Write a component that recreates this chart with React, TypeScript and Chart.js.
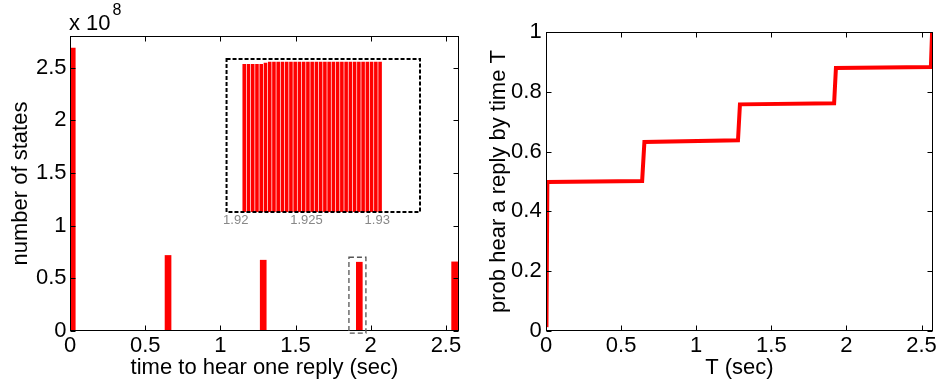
import React, { useEffect, useRef } from 'react';
import { Chart, registerables } from 'chart.js';
Chart.register(...registerables);

const FONT = '"Liberation Sans", Arial, Helvetica, sans-serif';

// ---- Left: histogram of time to hear one reply ----
const histTimes = [0.015, 0.652, 1.285, 1.924, 2.558];
const histCounts = [2.686e8, 0.717e8, 0.672e8, 0.653e8, 0.656e8];
const histXTicks = [0, 0.5, 1, 1.5, 2, 2.5];
const histYTicks = [0, 0.5e8, 1e8, 1.5e8, 2e8, 2.5e8];

// ---- Inset: zoom on the cluster near 1.92 s ----
const insetTimes = [
  1.9206, 1.9209, 1.9212, 1.9215, 1.9218, 1.9221, 1.9224, 1.9227, 1.923, 1.9233, 1.9236,
  1.9239, 1.9242, 1.9245, 1.9248, 1.9251, 1.9254, 1.9257, 1.926, 1.9263, 1.9266, 1.9269,
  1.9272, 1.9275, 1.9278, 1.9281, 1.9284, 1.9287, 1.929, 1.9293, 1.9296, 1.9299, 1.9302,
];
const insetCounts = [
  0.64e8, 0.64e8, 0.64e8, 0.64e8, 0.64e8, 0.645e8, 0.65e8, 0.65e8, 0.65e8, 0.65e8, 0.65e8,
  0.65e8, 0.65e8, 0.65e8, 0.65e8, 0.65e8, 0.65e8, 0.65e8, 0.65e8, 0.65e8, 0.65e8, 0.65e8,
  0.65e8, 0.65e8, 0.65e8, 0.65e8, 0.65e8, 0.65e8, 0.65e8, 0.65e8, 0.65e8, 0.65e8, 0.65e8,
];
const insetXTicks = [1.92, 1.925, 1.93];

// ---- Right: probability of hearing a reply by time T ----
const cdfT = [0.003, 0.009, 0.64, 0.655, 1.278, 1.291, 1.918, 1.93, 2.562, 2.57];
const cdfProb = [0.013, 0.498, 0.502, 0.632, 0.638, 0.758, 0.762, 0.88, 0.883, 1.0];
const cdfXTicks = [0, 0.5, 1, 1.5, 2, 2.5];
const cdfYTicks = [0, 0.2, 0.4, 0.6, 0.8, 1];

const RED = '#ff0000';

function drawFrame(chart: any) {
  const { ctx, chartArea: a, scales } = chart;
  ctx.save();
  ctx.strokeStyle = '#000';
  ctx.lineWidth = 1;
  const L = Math.round(a.left) + 0.5;
  const R = Math.round(a.right) - 0.5;
  const T = Math.round(a.top) + 0.5;
  const B = Math.round(a.bottom) - 0.5;
  ctx.strokeRect(L, T, R - L, B - T);
  const tl = 5;
  ctx.beginPath();
  for (const t of scales.x.ticks) {
    const px = Math.round(scales.x.getPixelForValue(t.value)) + 0.5;
    ctx.moveTo(px, B);
    ctx.lineTo(px, B - tl);
    ctx.moveTo(px, T);
    ctx.lineTo(px, T + tl);
  }
  for (const t of scales.y.ticks) {
    const py = Math.round(scales.y.getPixelForValue(t.value)) + 0.5;
    ctx.moveTo(L, py);
    ctx.lineTo(L + tl, py);
    ctx.moveTo(R, py);
    ctx.lineTo(R - tl, py);
  }
  ctx.stroke();
  ctx.restore();
}

function tickFont(size: number) {
  return { family: FONT, size };
}

function makeAxis(opts: {
  min: number;
  max: number;
  ticks: number[];
  horizontal: boolean;
  size: number;
  pad: number;
  title: string;
  titlePad: any;
  fmt: (v: number) => string;
}) {
  return {
    type: 'linear',
    offset: false,
    min: opts.min,
    max: opts.max,
    afterBuildTicks: (s: any) => {
      s.ticks = opts.ticks.map((v) => ({ value: v }));
    },
    afterFit: (s: any) => {
      if (opts.horizontal) s.height = opts.size;
      else s.width = opts.size;
    },
    grid: { display: false, drawTicks: false, offset: false },
    border: { display: false },
    ticks: {
      autoSkip: false,
      maxRotation: 0,
      minRotation: 0,
      padding: opts.pad,
      color: '#000',
      font: tickFont(22),
      callback: (v: any) => opts.fmt(Number(v)),
    },
    title: {
      display: true,
      text: opts.title,
      color: '#000',
      font: tickFont(22),
      padding: opts.titlePad,
    },
  };
}

function fmtNum(v: number) {
  return String(Math.round(v * 1000) / 1000);
}

export default function App() {
  const leftRef = useRef<HTMLCanvasElement>(null);
  const insetRef = useRef<HTMLCanvasElement>(null);
  const rightRef = useRef<HTMLCanvasElement>(null);

  useEffect(() => {
    const charts: Chart[] = [];

    // Left histogram
    charts.push(
      new Chart(leftRef.current as HTMLCanvasElement, {
        type: 'bar',
        data: {
          datasets: [
            {
              data: histTimes.map((x, i) => ({ x, y: histCounts[i] })),
              backgroundColor: RED,
              borderWidth: 0,
              barThickness: 6,
            } as any,
          ],
        },
        options: {
          responsive: false,
          animation: false,
          events: [],
          layout: { padding: { left: 0, top: 36, right: 11, bottom: 0 } },
          plugins: { legend: { display: false }, tooltip: { enabled: false } },
          scales: {
            x: makeAxis({
              min: 0,
              max: 2.587,
              ticks: histXTicks,
              horizontal: true,
              size: 52,
              pad: 2,
              title: 'time to hear one reply (sec)',
              titlePad: { top: 0, bottom: 2 },
              fmt: fmtNum,
            }) as any,
            y: makeAxis({
              min: 0,
              max: 2.8e8,
              ticks: histYTicks,
              horizontal: false,
              size: 70,
              pad: 3.5,
              title: 'number of states',
              titlePad: { top: 8, bottom: 0 },
              fmt: (v) => fmtNum(v / 1e8),
            }) as any,
          },
        },
        plugins: [
          {
            id: 'leftExtras',
            afterDraw(chart: any) {
              drawFrame(chart);
              const { ctx, scales } = chart;
              ctx.save();
              // dashed highlight box around cluster near 1.92 s
              const x0 = scales.x.getPixelForValue(1.855);
              const x1 = scales.x.getPixelForValue(1.968);
              const y0 = scales.y.getPixelForValue(0.70e8);
              const y1 = scales.y.getPixelForValue(-0.02e8);
              ctx.strokeStyle = '#555';
              ctx.lineWidth = 1.3;
              ctx.setLineDash([5, 3]);
              ctx.strokeRect(x0, y0, x1 - x0, y1 - y0);
              ctx.setLineDash([]);
              // exponent label
              ctx.fillStyle = '#000';
              ctx.textBaseline = 'alphabetic';
              ctx.textAlign = 'left';
              ctx.font = `22px ${FONT}`;
              ctx.fillText('x 10', 69, 29.5);
              ctx.font = `16px ${FONT}`;
              ctx.fillText('8', 112.5, 15);
              ctx.restore();
            },
          },
        ],
      } as any)
    );

    // Inset
    charts.push(
      new Chart(insetRef.current as HTMLCanvasElement, {
        type: 'bar',
        data: {
          datasets: [
            {
              data: insetTimes.map((x, i) => ({ x, y: insetCounts[i] })),
              backgroundColor: RED,
              borderWidth: 0,
              barThickness: 2.9,
            } as any,
          ],
        },
        options: {
          responsive: false,
          animation: false,
          events: [],
          layout: { padding: { left: 2, top: 2, right: 3, bottom: 0 } },
          plugins: { legend: { display: false }, tooltip: { enabled: false } },
          scales: {
            x: {
              type: 'linear',
              offset: false,
              min: 1.91935,
              max: 1.93302,
              afterBuildTicks: (s: any) => {
                s.ticks = insetXTicks.map((v) => ({ value: v }));
              },
              afterFit: (s: any) => {
                s.height = 21;
              },
              grid: { display: false, drawTicks: false, offset: false },
              border: { display: false },
              ticks: {
                autoSkip: false,
                maxRotation: 0,
                padding: 1,
                color: '#888',
                font: tickFont(13),
                callback: (v: any) => String(Math.round(Number(v) * 10000) / 10000),
              },
            },
            y: { display: false, min: 0, max: 0.663e8 },
          },
        },
        plugins: [
          {
            id: 'insetBox',
            afterDraw(chart: any) {
              const { ctx, chartArea: a } = chart;
              ctx.save();
              ctx.strokeStyle = '#000';
              ctx.lineWidth = 2;
              ctx.setLineDash([4, 2]);
              ctx.strokeRect(a.left, a.top, a.right - a.left, a.bottom - a.top);
              ctx.restore();
            },
          },
        ],
      } as any)
    );

    // Right cumulative probability
    charts.push(
      new Chart(rightRef.current as HTMLCanvasElement, {
        type: 'line',
        data: {
          datasets: [
            {
              data: cdfT.map((x, i) => ({ x, y: cdfProb[i] })),
              borderColor: RED,
              borderWidth: 4,
              pointRadius: 0,
              fill: false,
              tension: 0,
              borderJoinStyle: 'miter',
            } as any,
          ],
        },
        options: {
          responsive: false,
          animation: false,
          events: [],
          layout: { padding: { left: 0, top: 32, right: 5, bottom: 0 } },
          plugins: { legend: { display: false }, tooltip: { enabled: false } },
          scales: {
            x: makeAxis({
              min: 0,
              max: 2.575,
              ticks: cdfXTicks,
              horizontal: true,
              size: 52,
              pad: 2,
              title: 'T (sec)',
              titlePad: { top: 0, bottom: 2 },
              fmt: fmtNum,
            }) as any,
            y: makeAxis({
              min: 0,
              max: 1,
              ticks: cdfYTicks,
              horizontal: false,
              size: 76,
              pad: 4.3,
              title: 'prob hear a reply by time T',
              titlePad: { top: 16, bottom: 0 },
              fmt: fmtNum,
            }) as any,
          },
        },
        plugins: [
          {
            id: 'rightFrame',
            afterDraw(chart: any) {
              drawFrame(chart);
            },
          },
        ],
      } as any)
    );

    return () => {
      charts.forEach((c) => c.destroy());
    };
  }, []);

  return (
    <div
      style={{
        position: 'fixed',
        left: 0,
        top: 0,
        width: 939,
        height: 383,
        background: '#fff',
        overflow: 'hidden',
      }}
    >
      <canvas
        ref={leftRef}
        width={470}
        height={383}
        style={{ position: 'absolute', left: 0, top: 0, width: 470, height: 383 }}
      />
      <canvas
        ref={insetRef}
        width={201}
        height={176}
        style={{ position: 'absolute', left: 222, top: 57, width: 201, height: 176 }}
      />
      <canvas
        ref={rightRef}
        width={469}
        height={383}
        style={{ position: 'absolute', left: 470, top: 0, width: 469, height: 383 }}
      />
    </div>
  );
}
